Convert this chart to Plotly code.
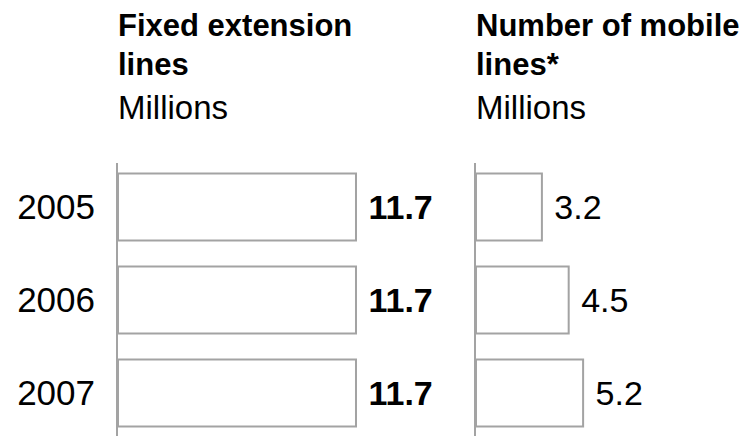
import plotly.graph_objects as go

years = ["2005", "2006", "2007"]
fixed_lines = [11.7, 11.7, 11.7]
mobile_lines = [3.2, 4.5, 5.2]
fixed_title = ["Fixed extension", "lines"]
mobile_title = ["Number of mobile", "lines*"]
unit_label = "Millions"

W, H = 745, 436
GRAY = "rgb(163,163,163)"
FONT = "Liberation Sans, Arial, sans-serif"


def py(px):
    return 1 - px / H


fig = go.Figure()
fig.add_trace(go.Bar(
    y=years, x=fixed_lines, orientation="h", xaxis="x", yaxis="y", width=0.72,
    marker=dict(color="white", line=dict(color=GRAY, width=2)),
    text=["\u00a0" + str(v) for v in fixed_lines], textposition="outside",
    cliponaxis=False, constraintext="none",
    textfont=dict(family=FONT, size=34, color="black", weight="bold"),
    hoverinfo="skip",
))
fig.add_trace(go.Bar(
    y=years, x=mobile_lines, orientation="h", xaxis="x2", yaxis="y2", width=0.72,
    marker=dict(color="white", line=dict(color=GRAY, width=2)),
    text=["\u00a0" + str(v) for v in mobile_lines], textposition="outside",
    cliponaxis=False, constraintext="none",
    textfont=dict(family=FONT, size=34, color="black"),
    hoverinfo="skip",
))

yax = dict(type="category", domain=[0, py(163)], range=[2.462, -0.473],
           showline=True, linecolor=GRAY, linewidth=2, ticks="", showgrid=False,
           zeroline=False, fixedrange=True)
fig.update_layout(
    width=W, height=H, margin=dict(l=0, r=0, t=0, b=0),
    paper_bgcolor="white", plot_bgcolor="white", showlegend=False,
    xaxis=dict(domain=[118 / W, 440 / W], range=[0, 15.83], visible=False, anchor="y"),
    xaxis2=dict(domain=[476 / W, 1], range=[0, 13.06], visible=False, anchor="y2"),
    yaxis=dict(**yax, anchor="x", tickfont=dict(family=FONT, size=35, color="black"),
               ticklabelstandoff=14),
    yaxis2=dict(**yax, anchor="x2", showticklabels=False),
)

anns = []
for x0, lines in ((116, fixed_title), (474, mobile_title)):
    for i, t in enumerate(lines):
        anns.append(dict(text=t, x=x0 / W, y=py(25 + 40 * i), xref="paper", yref="paper",
                         xanchor="left", yanchor="middle", showarrow=False,
                         font=dict(family=FONT, size=31, color="black", weight="bold")))
    anns.append(dict(text=unit_label, x=x0 / W, y=py(107.5), xref="paper", yref="paper",
                     xanchor="left", yanchor="middle", showarrow=False,
                     font=dict(family=FONT, size=33, color="black")))
fig.update_layout(annotations=anns)

fig.write_html("out.html", config={"displayModeBar": False},
               post_script="document.body.style.margin='0px';")
